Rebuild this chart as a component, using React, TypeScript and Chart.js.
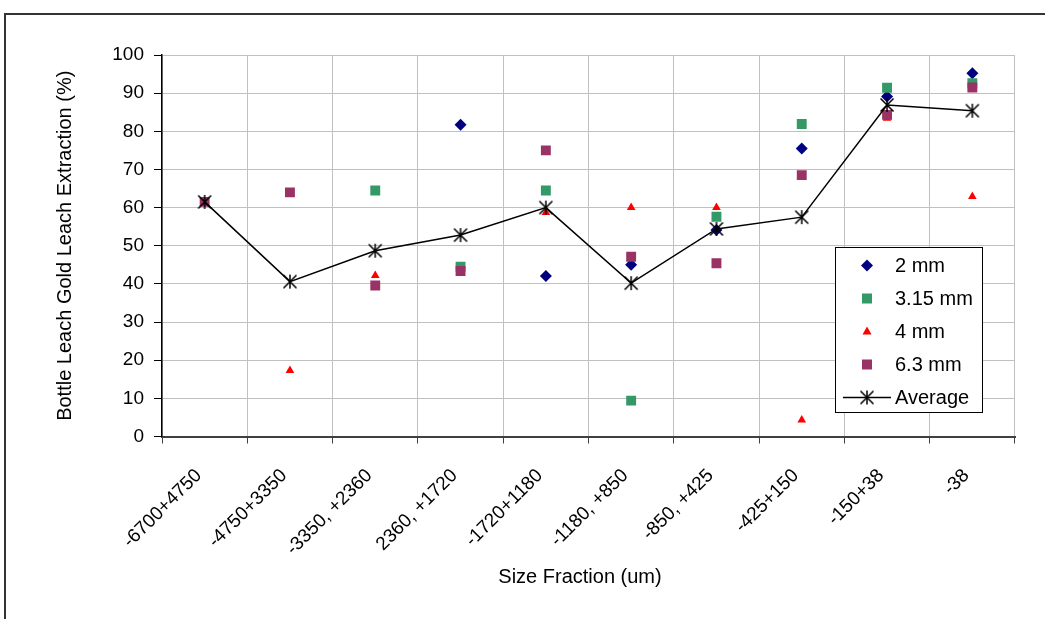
import React, { useEffect, useRef } from 'react';
import { Chart, registerables } from 'chart.js';

Chart.register(...registerables);

const categories = ['-6700+4750', '-4750+3350', '-3350, +2360', '2360, +1720', '-1720+1180', '-1180, +850', '-850, +425', '-425+150', '-150+38', '-38'];
const series2mm = [null, null, null, 81.7, 42.1, 45.0, 54.1, 75.5, 89.1, 95.2];
const series315mm = [null, null, 64.5, 44.5, 64.5, 9.4, 57.6, 81.9, 91.4, 92.6];
const series4mm = [null, 17.3, 42.2, 42.8, 58.7, 60.0, 60.0, 4.3, 83.4, 62.9];
const series63mm = [61.5, 64.0, 39.6, 43.4, 75.0, 47.1, 45.4, 68.5, 84.3, 91.5];
const seriesAverage = [61.5, 40.6, 48.7, 52.8, 60.0, 40.2, 54.4, 57.5, 86.9, 85.4];
const legendLabels = ['2 mm', '3.15 mm', '4 mm', '6.3 mm', 'Average'];
const yTitle = 'Bottle Leach Gold Leach Extraction (%)';
const xTitle = 'Size Fraction (um)';

const FONT = '"Liberation Sans", Arial, sans-serif';
const NAVY = '#000080';
const GREEN = '#339966';
const RED = '#ff0000';
const PURPLE = '#993366';

function makeStar(): HTMLCanvasElement {
  const c = document.createElement('canvas');
  c.width = 16;
  c.height = 16;
  const g = c.getContext('2d')!;
  g.strokeStyle = '#000';
  g.lineWidth = 1.5;
  g.beginPath();
  g.moveTo(8, 1);
  g.lineTo(8, 15);
  g.moveTo(1.5, 1.5);
  g.lineTo(14.5, 14.5);
  g.moveTo(14.5, 1.5);
  g.lineTo(1.5, 14.5);
  g.stroke();
  return c;
}

export default function App() {
  const ref = useRef<HTMLCanvasElement>(null);

  useEffect(() => {
    const canvas = ref.current;
    if (!canvas) return;
    const star = makeStar();

    const drawMarker = (ctx: CanvasRenderingContext2D, kind: number, x: number, y: number) => {
      ctx.save();
      ctx.beginPath();
      if (kind === 0) {
        ctx.fillStyle = NAVY;
        ctx.moveTo(x - 6, y);
        ctx.lineTo(x, y - 6);
        ctx.lineTo(x + 6, y);
        ctx.lineTo(x, y + 6);
        ctx.closePath();
        ctx.fill();
      } else if (kind === 1 || kind === 3) {
        ctx.fillStyle = kind === 1 ? GREEN : PURPLE;
        ctx.fillRect(x - 5, y - 5, 10, 10);
      } else if (kind === 2) {
        ctx.fillStyle = RED;
        ctx.moveTo(x, y - 5);
        ctx.lineTo(x + 4.5, y + 3);
        ctx.lineTo(x - 4.5, y + 3);
        ctx.closePath();
        ctx.fill();
      } else {
        ctx.strokeStyle = '#000';
        ctx.lineWidth = 1.5;
        ctx.moveTo(x - 24, y);
        ctx.lineTo(x + 24, y);
        ctx.stroke();
        ctx.drawImage(star, x - 8, y - 8);
      }
      ctx.restore();
    };

    const decor = {
      id: 'decor',
      beforeDraw(chart: any) {
        const ctx = chart.ctx as CanvasRenderingContext2D;
        ctx.save();
        ctx.fillStyle = '#fff';
        ctx.fillRect(0, 0, chart.width, chart.height);
        ctx.strokeStyle = '#333';
        ctx.lineWidth = 2;
        ctx.beginPath();
        ctx.moveTo(5, chart.height);
        ctx.lineTo(5, 14);
        ctx.lineTo(chart.width, 14);
        ctx.stroke();
        ctx.restore();
      },
      afterDraw(chart: any) {
        const ctx = chart.ctx as CanvasRenderingContext2D;
        const xs = chart.scales.x;
        const area = chart.chartArea;
        ctx.save();
        ctx.fillStyle = '#000';
        ctx.font = `19px ${FONT}`;
        ctx.textAlign = 'right';
        ctx.textBaseline = 'middle';
        categories.forEach((lab, i) => {
          const cx = xs.getPixelForValue(i);
          ctx.save();
          ctx.translate(cx - 6, area.bottom + 36);
          ctx.rotate(-Math.PI / 4);
          ctx.fillText(lab, 0, 0);
          ctx.restore();
        });
        ctx.font = `20px ${FONT}`;
        ctx.textAlign = 'center';
        ctx.fillText(xTitle, 580, 577);
        ctx.save();
        ctx.translate(65, (area.top + area.bottom) / 2);
        ctx.rotate(-Math.PI / 2);
        ctx.fillText(yTitle, 0, 0);
        ctx.restore();
        ctx.fillStyle = '#fff';
        ctx.fillRect(835, 247, 148, 166);
        ctx.strokeStyle = '#000';
        ctx.lineWidth = 1;
        ctx.strokeRect(835.5, 247.5, 147, 165);
        ctx.font = `20px ${FONT}`;
        ctx.textAlign = 'left';
        ctx.textBaseline = 'middle';
        legendLabels.forEach((lab, i) => {
          const y = 265.5 + 33 * i;
          drawMarker(ctx, i, 867, y);
          ctx.fillStyle = '#000';
          ctx.fillText(lab, 895, y + 1);
        });
        ctx.restore();
      },
    };

    const chart = new Chart(canvas, {
      type: 'line',
      data: {
        labels: categories,
        datasets: [
          { label: legendLabels[0], data: series2mm, showLine: false, pointStyle: 'rectRot', pointRadius: 6, backgroundColor: NAVY, borderColor: NAVY, borderWidth: 0, order: 4 },
          { label: legendLabels[1], data: series315mm, showLine: false, pointStyle: 'rect', pointRadius: 7, backgroundColor: GREEN, borderColor: GREEN, borderWidth: 0, order: 3 },
          { label: legendLabels[2], data: series4mm, showLine: false, pointStyle: 'triangle', pointRadius: 5, backgroundColor: RED, borderColor: RED, borderWidth: 0, order: 2 },
          { label: legendLabels[3], data: series63mm, showLine: false, pointStyle: 'rect', pointRadius: 7, backgroundColor: PURPLE, borderColor: PURPLE, borderWidth: 0, order: 1 },
          { label: legendLabels[4], data: seriesAverage, showLine: true, pointStyle: star as any, pointRadius: 7, borderColor: '#000', backgroundColor: '#000', borderWidth: 1.5, tension: 0, order: 0 },
        ] as any,
      },
      options: {
        responsive: false,
        animation: false,
        devicePixelRatio: 1,
        layout: { padding: { top: 55, right: 30, left: 0, bottom: 0 } },
        plugins: { legend: { display: false }, tooltip: { enabled: false }, title: { display: false } },
        events: [],
        scales: {
          x: {
            type: 'category',
            offset: true,
            grid: { offset: true, color: '#c0c0c0', lineWidth: 1, tickColor: '#404040', tickLength: 7, drawTicks: true },
            border: { display: true, color: '#404040', width: 2 },
            ticks: { display: false },
            afterFit: (s: any) => {
              s.height = 182.5;
              s.paddingLeft = 0;
              s.paddingRight = 0;
            },
          },
          y: {
            min: 0,
            max: 100,
            grid: { color: '#c0c0c0', lineWidth: 1, tickColor: '#000', tickLength: 8 },
            border: { display: true, color: '#000', width: 1.5 },
            ticks: { stepSize: 10, color: '#000', font: { family: FONT, size: 19 }, padding: 10 },
            afterFit: (s: any) => {
              s.width = 162;
              s.paddingTop = 0;
              s.paddingBottom = 0;
            },
          },
        },
      } as any,
      plugins: [decor],
    });

    return () => chart.destroy();
  }, []);

  return (
    <div style={{ position: 'absolute', left: 0, top: 0, width: 1045, height: 619 }}>
      <canvas ref={ref} width={1045} height={619} style={{ display: 'block', width: 1045, height: 619 }} />
    </div>
  );
}
